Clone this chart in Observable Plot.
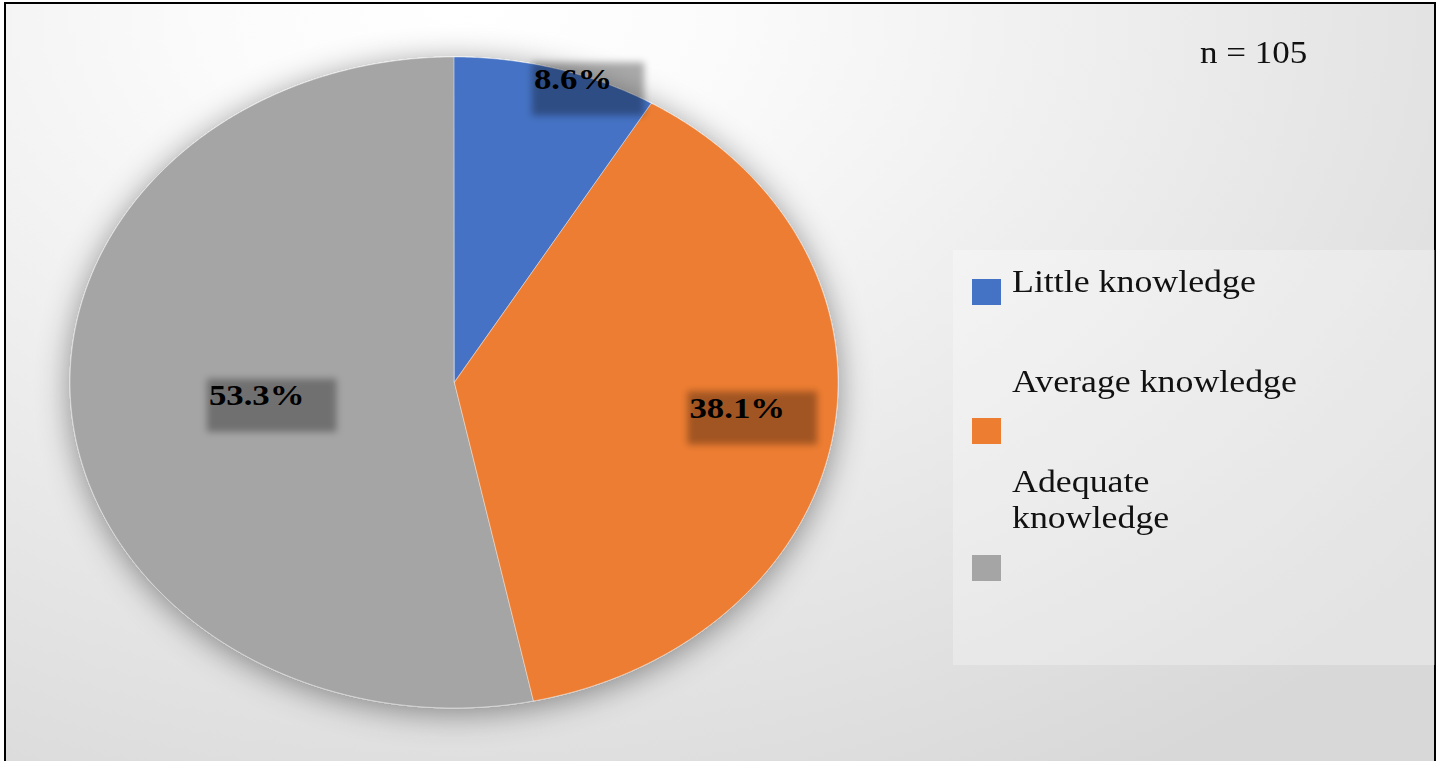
<!DOCTYPE html>
<html><head><meta charset="utf-8">
<script src="https://cdn.jsdelivr.net/npm/d3@7"></script>
<script src="https://cdn.jsdelivr.net/npm/@observablehq/plot@0.6"></script>
<style>
html,body{margin:0;padding:0;background:#fff;overflow:hidden;width:1442px;height:761px;}
#frame{position:absolute;left:4px;top:2px;width:1428px;height:820px;border:2px solid #000;
 background: radial-gradient(ellipse 90% 110% at 32% 0%, #ffffff 0%, #fbfbfb 20%, #ececec 55%, #d8d8d8 100%);}
#legendbox{position:absolute;left:953px;top:250px;width:482px;height:415px;background:rgba(255,255,255,0.28);}
#chart{position:absolute;left:0;top:0;}
.lg{position:absolute;font-family:"Liberation Serif","Times New Roman",serif;font-size:32px;line-height:36px;color:#111;transform:scaleX(1.12);transform-origin:0 0;white-space:nowrap;}
.sw{position:absolute;width:29px;height:26px;left:972px;}
</style></head><body>
<div id="frame"></div><div id="legendbox"></div><div id="chart"></div><div id="legend"></div>
<script>
// ---- data ----
const categories = ["Little knowledge", "Average knowledge", "Adequate knowledge"];
const percents = [8.6, 38.1, 53.3];
const pctLabels = ["8.6%", "38.1%", "53.3%"];
const legendLines = [["Little knowledge"], ["Average knowledge"], ["Adequate", "knowledge"]];
const colors = ["#4472C4", "#ED7D31", "#A5A5A5"];
const sampleLabel = "n = 105";

// ---- layout ----
const labelRadius = 0.62;
const labelNudge = [[55, -109], [48, -8], [39, -8]];
const swatchTop = [279, 418, 555];
const legendTextTop = [263, 363, 463];

const arcs = d3.pie().sort(null).value(d => d)(percents);
const slices = arcs.map(a => {
  const pts = [];
  const n = Math.max(2, Math.ceil((a.endAngle - a.startAngle) / (Math.PI / 360)));
  for (let k = 0; k <= n; k++) {
    const t = a.startAngle + (a.endAngle - a.startAngle) * k / n;
    pts.push({x: Math.sin(t), y: Math.cos(t), cx: 0, cy: 0});
  }
  return pts;
});
const anchors = arcs.map(a => {
  const m = (a.startAngle + a.endAngle) / 2;
  return {x: labelRadius * Math.sin(m), y: labelRadius * Math.cos(m)};
});

const svg = Plot.plot({
  width: 1442, height: 761, margin: 0,
  x: {domain: [-1, 1], range: [70, 838], axis: null},
  y: {domain: [-1, 1], range: [708, 57], axis: null},
  style: {background: "transparent", overflow: "visible"},
  marks: [
    ...slices.map((pts, i) => Plot.area(pts, {x1: "x", y1: "y", x2: "cx", y2: "cy", curve: "linear",
      fill: colors[i], stroke: "#ffffff", strokeOpacity: 0.4, strokeWidth: 1, strokeLinejoin: "round"})),
    ...pctLabels.map((l, i) => Plot.text([anchors[i]], {x: "x", y: "y", text: () => l,
      dx: labelNudge[i][0], dy: labelNudge[i][1], fontSize: 30, fontWeight: "bold",
      fontFamily: "'Liberation Serif','Times New Roman',serif", fill: "#000"}))
  ]
});
document.getElementById("chart").append(svg);

// filters
const NS = "http://www.w3.org/2000/svg";
const defs = document.createElementNS(NS, "defs");
defs.innerHTML = `
<filter id="pieShadow" x="-25%" y="-25%" width="150%" height="150%">
  <feDropShadow dx="0" dy="5" stdDeviation="16" flood-color="#000" flood-opacity="0.42"/>
</filter>
<filter id="boxBlur" x="-30%" y="-30%" width="160%" height="160%">
  <feGaussianBlur stdDeviation="3.5"/>
</filter>`;
const markGroups = Array.from(svg.children).filter(e => e.tagName.toLowerCase() === "g");
svg.insertBefore(defs, svg.firstChild);

try {
  const sliceGroups = markGroups.slice(0, slices.length);
  const labelGroups = markGroups.slice(slices.length, slices.length + pctLabels.length);
  const pieG = document.createElementNS(NS, "g");
  pieG.setAttribute("filter", "url(#pieShadow)");
  sliceGroups[0].parentNode.insertBefore(pieG, sliceGroups[0]);
  sliceGroups.forEach(g => pieG.appendChild(g));

  const svgRect = svg.getBoundingClientRect();
  labelGroups.forEach(g => {
    const el = g.querySelector("text");
    const x = +el.getAttribute("x") || 0, y = +el.getAttribute("y") || 0;
    const t = el.getAttribute("transform") || "";
    el.setAttribute("transform", `${t} translate(${x},${y}) scale(1.16,1) translate(${-x},${-y})`);
    const bb = el.getBoundingClientRect();
    const r = document.createElementNS(NS, "rect");
    r.setAttribute("x", bb.left - svgRect.left - 2);
    r.setAttribute("y", bb.top - svgRect.top);
    r.setAttribute("width", bb.width + 34);
    r.setAttribute("height", bb.height + 20);
    r.setAttribute("fill", "#000");
    r.setAttribute("fill-opacity", "0.32");
    r.setAttribute("filter", "url(#boxBlur)");
    g.parentNode.insertBefore(r, g);
  });
} catch (e) { console.error(e); }

// legend
const lg = document.getElementById("legend");
categories.forEach((c, i) => {
  const sw = document.createElement("div");
  sw.className = "sw"; sw.style.top = swatchTop[i] + "px"; sw.style.background = colors[i];
  sw.title = c;
  lg.append(sw);
  const tx = document.createElement("div");
  tx.className = "lg"; tx.style.left = "1012px"; tx.style.top = legendTextTop[i] + "px";
  tx.innerHTML = legendLines[i].join("<br>");
  lg.append(tx);
});
const nl = document.createElement("div");
nl.className = "lg"; nl.style.left = "1200px"; nl.style.top = "34.5px"; nl.style.fontSize = "31px";
nl.style.transform = "scaleX(1.13)";
nl.textContent = sampleLabel;
lg.append(nl);
</script>
</body></html>
